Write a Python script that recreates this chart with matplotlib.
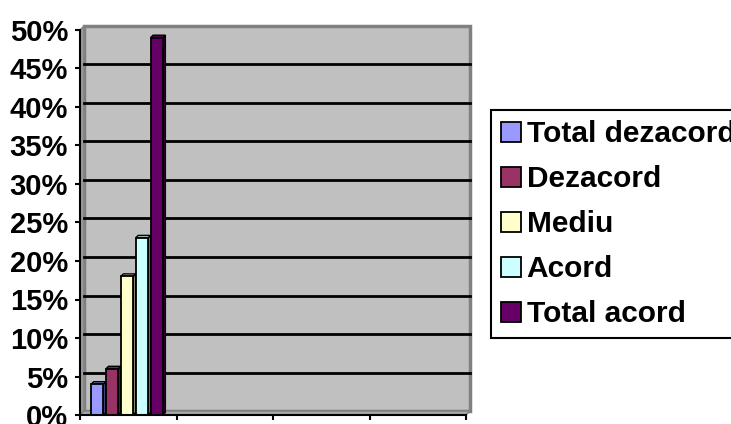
import matplotlib
matplotlib.use('Agg')
import matplotlib.pyplot as plt
import matplotlib.transforms as mtransforms
from matplotlib.patches import Polygon, Rectangle
from matplotlib.colors import to_rgb

plt.rcParams['font.family'] = ['Liberation Sans', 'DejaVu Sans']
plt.rcParams['font.weight'] = 'bold'
plt.rcParams['font.size'] = 21

# data
series = ['Total dezacord', 'Dezacord', 'Mediu', 'Acord', 'Total acord']
values = [4, 6, 18, 23, 49]
colors = ['#9999FF', '#993366', '#FFFFCC', '#CCFFFF', '#660066']
n_categories = 4
y_ticks = [0, 5, 10, 15, 20, 25, 30, 35, 40, 45, 50]
y_labels = ['0%', '5%', '10%', '15%', '20%', '25%', '30%', '35%', '40%', '45%', '50%']


def shade(c, f):
    r, g, b = to_rgb(c)
    return (r * f, g * f, b * f)


W, H = 731, 424
fig = plt.figure(figsize=(W / 100, H / 100), dpi=100)
ax = fig.add_axes([80 / W, 9 / H, 386 / W, 385 / H])
ax.set_xlim(0, n_categories)
ax.set_ylim(0, 50)
ax.set_facecolor('none')

# 3d look: back wall pushed up/right by a few pixels
wall_px = 4
off = mtransforms.ScaledTranslation(wall_px / 100, wall_px / 100, fig.dpi_scale_trans)
dxa = wall_px / ax.bbox.width
dya = wall_px / ax.bbox.height

wall = Rectangle((0, 0), 1, 1, transform=ax.transAxes + off,
                 facecolor='#C0C0C0', edgecolor='#808080', lw=2.5,
                 zorder=0, clip_on=False)
ax.add_patch(wall)
side = Polygon([(0, 0), (0, 1), (dxa, 1 + dya), (dxa, dya)],
               transform=ax.transAxes, facecolor='#9A9A9A',
               edgecolor='#808080', lw=1, zorder=0.5, clip_on=False)
ax.add_patch(side)
floor = Polygon([(0, 0), (1, 0), (1 + dxa, dya), (dxa, dya)],
                transform=ax.transAxes, facecolor='#A8A8A8',
                edgecolor='#808080', lw=1, zorder=0.5, clip_on=False)
ax.add_patch(floor)

# gridlines on the back wall
for t in y_ticks[1:-1]:
    ax.plot([0, n_categories], [t, t], color='black', lw=2,
            transform=ax.transData + off, zorder=1, clip_on=False)

# bars, excel style: gap width 150%
w = 1 / (len(series) + 1.5)
start = 0.75 * w
bar_px = 2.5
bdx = bar_px / (ax.bbox.width / n_categories)
bdy = bar_px / (ax.bbox.height / 50)
fw = w - bdx

handles = []
for i, (name, v, c) in enumerate(zip(series, values, colors)):
    x0 = start + i * w
    b = ax.bar(x0, v, width=fw, align='edge', color=c, edgecolor='black',
               lw=1.3, zorder=3, label=name)
    handles.append(b[0])
    sface = Polygon([(x0 + fw, 0), (x0 + fw, v), (x0 + fw + bdx, v + bdy),
                     (x0 + fw + bdx, bdy)], facecolor=shade(c, 0.55),
                    edgecolor='black', lw=1.0, zorder=2.9)
    tface = Polygon([(x0, v), (x0 + fw, v), (x0 + fw + bdx, v + bdy),
                     (x0 + bdx, v + bdy)], facecolor=shade(c, 0.8),
                    edgecolor='black', lw=1.0, zorder=2.9)
    ax.add_patch(sface)
    ax.add_patch(tface)

ax.set_yticks(y_ticks)
ax.set_yticklabels(y_labels)
ax.set_xticks(range(n_categories + 1))
ax.set_xticklabels([])
ax.tick_params(axis='both', direction='out', length=3.6, width=1.5,
               color='black')
ax.tick_params(axis='y', pad=5)

for s in ['top', 'right']:
    ax.spines[s].set_visible(False)
for s in ['left', 'bottom']:
    ax.spines[s].set_linewidth(1.5)
    ax.spines[s].set_color('black')
    ax.spines[s].set_zorder(4)

leg = fig.legend(handles, series, loc='upper left',
                 bbox_to_anchor=(491 / W, 1 - 110 / H),
                 bbox_transform=fig.transFigure, frameon=True,
                 fancybox=False, edgecolor='black', framealpha=1,
                 handlelength=0.65, handleheight=0.65, handletextpad=0.2,
                 borderpad=0.34, labelspacing=0.57, borderaxespad=0,
                 prop={'weight': 'bold', 'size': 21.5})
leg.get_frame().set_linewidth(1.5)

fig.savefig('out.png', dpi=100)
